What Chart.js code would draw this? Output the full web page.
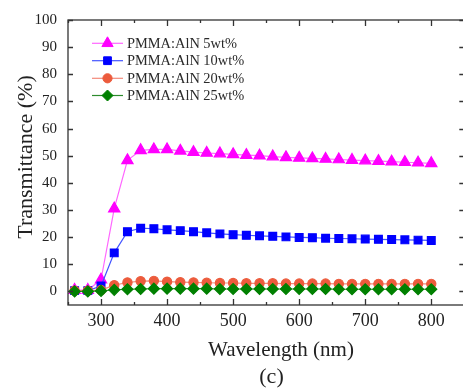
<!DOCTYPE html>
<html>
<head>
<meta charset="utf-8">
<script src="https://cdn.jsdelivr.net/npm/chart.js@4/dist/chart.umd.min.js"></script>
<style>
  body { margin: 0; overflow: hidden; background: #fff; }
  #wrap { width: 472px; height: 392px; }
</style>
</head>
<body>
<div id="wrap"><canvas id="myChart" width="472" height="392"></canvas></div>
<script>
// wavelength (nm)
var wavelengths = [260, 280, 300, 320, 340, 360, 380, 400, 420, 440, 460, 480, 500, 520,
                   540, 560, 580, 600, 620, 640, 660, 680, 700, 720, 740, 760, 780, 800];

// transmittance (%)
var t5 = [0.5, 0.5, 4.3, 30.5, 48.3, 52.0, 52.3, 52.3, 51.8, 51.3, 51.0, 50.8, 50.5, 50.2,
          50.0, 49.7, 49.4, 49.2, 49.0, 48.8, 48.6, 48.4, 48.2, 48.0, 47.8, 47.6, 47.4, 47.2];
var t10 = [0.3, 0.3, 2.0, 14.2, 22.0, 23.3, 23.1, 22.7, 22.4, 22.0, 21.6, 21.2, 20.9, 20.7,
           20.5, 20.3, 20.1, 19.9, 19.8, 19.6, 19.5, 19.4, 19.3, 19.2, 19.1, 19.0, 18.9, 18.8];
var t20 = [0.3, 0.3, 0.5, 2.3, 3.3, 3.8, 3.9, 3.6, 3.4, 3.3, 3.2, 3.1, 3.1, 3.0,
           3.0, 3.0, 2.9, 2.9, 2.9, 2.9, 2.8, 2.8, 2.8, 2.8, 2.8, 2.8, 2.8, 2.8];
var t25 = [0, 0, 0.2, 0.6, 0.8, 0.9, 1.0, 1.0, 1.0, 1.0, 1.0, 0.9, 0.9, 0.9,
           0.9, 0.9, 0.9, 0.9, 0.9, 0.9, 0.8, 0.8, 0.8, 0.8, 0.8, 0.8, 0.8, 0.8];

var seriesNames = ['PMMA:AlN 5wt%', 'PMMA:AlN 10wt%', 'PMMA:AlN 20wt%', 'PMMA:AlN 25wt%'];
var xTicks = [300, 400, 500, 600, 700, 800];
var yTicks = [0, 10, 20, 30, 40, 50, 60, 70, 80, 90, 100];

var serif = '"Liberation Serif", "Times New Roman", serif';

function pts(arr) {
    return wavelengths.map(function (w, i) { return { x: w, y: arr[i] }; });
}

function drawMarker(ctx, ds, x, y) {
    var opts = {
        pointStyle: ds.pointStyle,
        radius: ds.pointRadius,
        rotation: 0,
        borderWidth: 1
    };
    ctx.save();
    ctx.fillStyle = ds.pointBackgroundColor;
    ctx.strokeStyle = ds.pointBorderColor;
    ctx.lineWidth = 1;
    Chart.helpers.drawPoint(ctx, opts, x, y);
    ctx.restore();
}

// frame, inward ticks, axis titles and the inside legend
var framePlugin = {
    id: 'frame',
    afterDraw: function (chart) {
        var ctx = chart.ctx;
        var a = chart.chartArea;
        var xs = chart.scales.x, ys = chart.scales.y;
        ctx.save();
        ctx.strokeStyle = '#333';
        ctx.lineWidth = 1.3;
        ctx.strokeRect(a.left, a.top, a.right - a.left, a.bottom - a.top);
        ctx.beginPath();
        for (var v = 250; v <= 850; v += 50) {
            var px = Math.round(xs.getPixelForValue(v)) + 0.5;
            var len = (v % 100 === 0) ? 6 : 3;
            ctx.moveTo(px, a.bottom); ctx.lineTo(px, a.bottom - len);
            ctx.moveTo(px, a.top); ctx.lineTo(px, a.top + len);
        }
        yTicks.forEach(function (t) {
            var py = Math.round(ys.getPixelForValue(t)) + 0.5;
            ctx.moveTo(a.left, py); ctx.lineTo(a.left + 5, py);
            ctx.moveTo(a.right, py); ctx.lineTo(a.right - 5, py);
        });
        ctx.stroke();

        // x axis title and panel label
        ctx.fillStyle = '#222';
        ctx.textAlign = 'center';
        ctx.textBaseline = 'alphabetic';
        ctx.font = '21px ' + serif;
        ctx.fillText('Wavelength (nm)', 281, 356);
        ctx.font = '22px ' + serif;
        ctx.fillText('(c)', 271.5, 383);

        // y axis title
        ctx.font = '22px ' + serif;
        ctx.translate(32, 157);
        ctx.rotate(-Math.PI / 2);
        ctx.fillText('Transmittance (%)', 0, 0);
        ctx.restore();

        // legend
        var rows = [43.3, 60.7, 78.3, 95.5];
        chart.data.datasets.forEach(function (ds, i) {
            var y = rows[i];
            ctx.save();
            ctx.strokeStyle = ds.borderColor;
            ctx.lineWidth = 1.2;
            ctx.beginPath();
            ctx.moveTo(92, y); ctx.lineTo(123, y);
            ctx.stroke();
            drawMarker(ctx, ds, 107.5, y);
            ctx.fillStyle = '#2a2a2a';
            ctx.font = '14.4px ' + serif;
            ctx.textAlign = 'left';
            ctx.textBaseline = 'middle';
            ctx.fillText(seriesNames[i], 127, y + 1);
            ctx.restore();
        });
    }
};

new Chart(document.getElementById('myChart'), {
    type: 'line',
    data: {
        datasets: [{
            label: seriesNames[0],
            data: pts(t5),
            borderColor: '#ff66ff',
            pointBackgroundColor: '#ff00ff',
            pointBorderColor: '#ff00ff',
            pointStyle: 'triangle',
            pointRadius: 6.5,
            borderWidth: 1.2,
            order: 4
        }, {
            label: seriesNames[1],
            data: pts(t10),
            borderColor: '#4455ff',
            pointBackgroundColor: '#0000ff',
            pointBorderColor: '#0000ff',
            pointStyle: 'rect',
            pointRadius: 5.5,
            borderWidth: 1.2,
            order: 3
        }, {
            label: seriesNames[2],
            data: pts(t20),
            borderColor: '#f38a7a',
            pointBackgroundColor: '#ec5b3c',
            pointBorderColor: '#ec5b3c',
            pointStyle: 'circle',
            pointRadius: 4.6,
            borderWidth: 1.2,
            order: 2
        }, {
            label: seriesNames[3],
            data: pts(t25),
            borderColor: '#2e8b2e',
            pointBackgroundColor: '#008000',
            pointBorderColor: '#008000',
            pointStyle: 'rectRot',
            pointRadius: 5.5,
            borderWidth: 1.2,
            order: 1
        }]
    },
    options: {
        responsive: false,
        animation: false,
        layout: { padding: { top: 13, right: 4, left: 0, bottom: 0 } },
        plugins: {
            legend: { display: false },
            tooltip: { enabled: false }
        },
        scales: {
            x: {
                type: 'linear',
                min: 250,
                max: 850,
                grid: { display: false, drawTicks: false },
                border: { display: false },
                afterFit: function (s) { s.height = 87; },
                afterBuildTicks: function (s) {
                    s.ticks = xTicks.map(function (v) { return { value: v }; });
                },
                ticks: {
                    padding: 5,
                    color: '#222',
                    maxRotation: 0,
                    font: { family: serif, size: 18 }
                },
                title: { display: false }
            },
            y: {
                min: -5,
                max: 100,
                grid: { display: false, drawTicks: false },
                border: { display: false },
                afterFit: function (s) { s.width = 68; },
                afterBuildTicks: function (s) {
                    s.ticks = yTicks.map(function (v) { return { value: v }; });
                },
                ticks: {
                    padding: 11,
                    color: '#222',
                    font: { family: serif, size: 15 }
                },
                title: { display: false }
            }
        }
    },
    plugins: [framePlugin]
});
</script>
</body>
</html>
